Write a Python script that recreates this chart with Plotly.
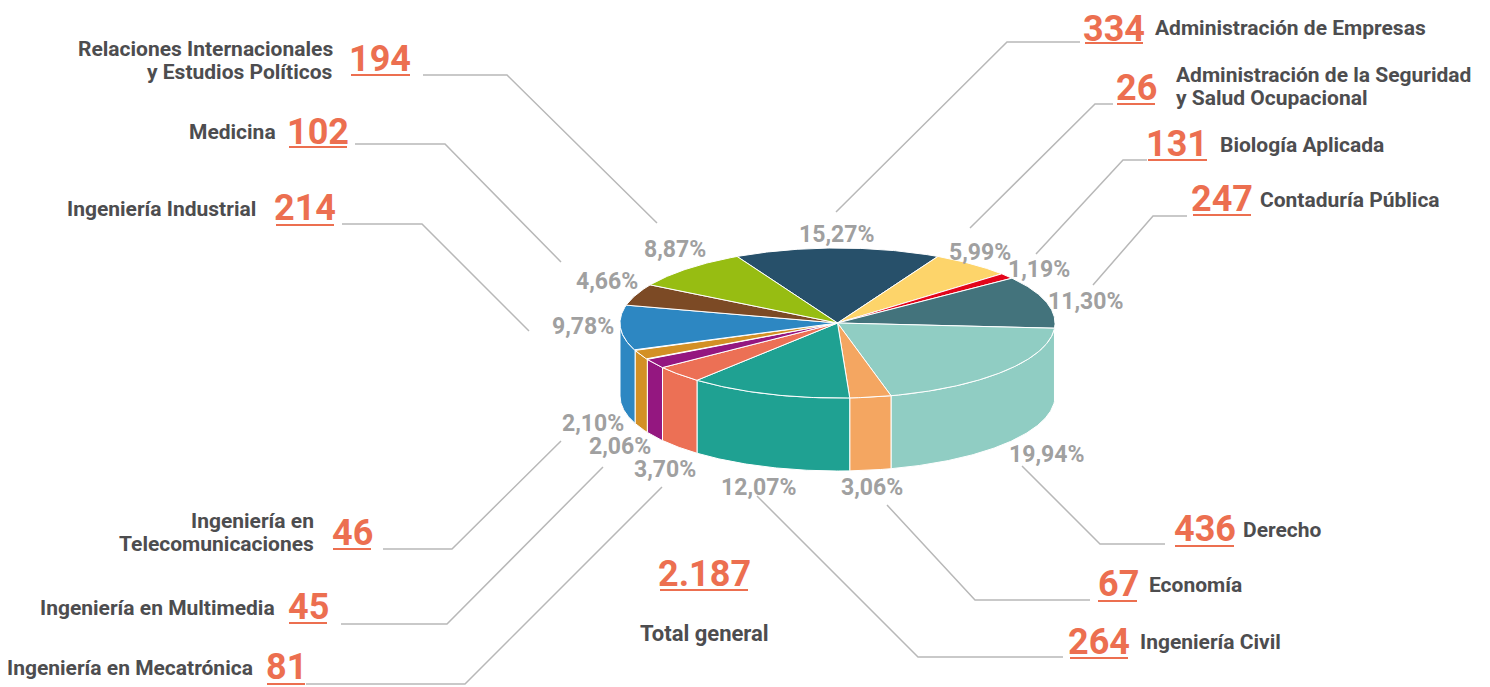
import numpy as np
import plotly.graph_objects as go

# slices in clockwise order starting at the top
categories = [
    "Administración de Empresas",
    "Biología Aplicada",
    "Administración de la Seguridad\ny Salud Ocupacional",
    "Contaduría Pública",
    "Derecho",
    "Economía",
    "Ingeniería Civil",
    "Ingeniería en Mecatrónica",
    "Ingeniería en Multimedia",
    "Ingeniería en\nTelecomunicaciones",
    "Ingeniería Industrial",
    "Medicina",
    "Relaciones Internacionales\ny Estudios Políticos",
]
values = [334, 131, 26, 247, 436, 67, 264, 81, 45, 46, 214, 102, 194]
percent_labels = ["15,27%", "5,99%", "1,19%", "11,30%", "19,94%", "3,06%", "12,07%",
                  "3,70%", "2,06%", "2,10%", "9,78%", "4,66%", "8,87%"]
colors = ["#27506a", "#fdd46a", "#e3051b", "#43737c", "#90cdc3", "#f4a661", "#1fa192",
          "#ec7055", "#941780", "#d39025", "#2d87c2", "#7c4a25", "#97bd12"]
total_label = "Total general"

ORANGE = "#ec6f50"
DARK = "#4d4d4f"
GREY = "#a0a0a0"
LINE = "#b8b8b8"
FONT = "Liberation Sans Narrow, Roboto, sans-serif"

# pie geometry in pixel units
CX, CY, RX, RY, DEPTH = 837.5, 323, 217.5, 75, 73
START = -27.5

# the page body has an 8px margin, so the axes start at 8 to keep pixel coordinates
OFF = 8

# percent label centres, same order as slices
pct_pos = [(836, 234), (980, 252), (1039, 269), (1085, 301), (1046, 454), (872, 487),
           (758, 487), (665, 469), (620, 446), (593, 423), (583, 326), (607, 281), (675, 249)]

# callouts: side, number centre, underline (x0, x1, y), text position, leader path
callouts = [
    ("right", (1114, 29), (1085, 1143, 43), (1153, 28), [(1080, 42), (1007, 42), (836, 212)]),
    ("right", (1177, 144), (1148, 1207, 160), (1218, 145), [(1147, 160), (1123, 160), (1036, 254)]),
    ("right", (1136, 88), (1117, 1155, 104), (1174, 86), [(1113, 104), (1095, 104), (970, 228)]),
    ("right", (1222, 199), (1193, 1251, 215), (1258, 200), [(1187, 216), (1153, 216), (1093, 285)]),
    ("right", (1205, 529), (1175, 1234, 546), (1241, 530), [(1022, 466), (1100, 544), (1165, 544)]),
    ("right", (1118, 584), (1098, 1137, 601), (1147, 585), [(887, 505), (975, 600), (1090, 600)]),
    ("right", (1099, 642), (1070, 1128, 658), (1138, 642), [(757, 496), (918, 657), (1063, 657)]),
    ("left", (286, 667), (267, 305, 684), (255, 668), [(306, 684), (465, 684), (662, 487)]),
    ("left", (308, 607), (289, 327, 623), (277, 608), [(341, 624), (447, 624), (603, 467)]),
    ("left", (352, 533), (333, 371, 549), (316, 532), [(383, 549), (452, 549), (561, 441)]),
    ("left", (305, 208), (276, 334, 225), (258, 209), [(342, 224), (422, 224), (529, 331)]),
    ("left", (318, 132), (289, 347, 147), (278, 132), [(355, 144), (445, 144), (561, 262)]),
    ("left", (380, 59), (351, 410, 75), (335, 60), [(423, 75), (507, 75), (657, 223)]),
]
total_pos = (704, 574)
total_ul = (660, 748, 590)
total_text_pos = (704, 633)

total = sum(values)
bounds = START + 360 * np.concatenate([[0], np.cumsum(values)]) / total


def arc(a0, a1):
    t = np.radians(np.linspace(a0, a1, int(abs(a1 - a0) * 2) + 2))
    return CX + RX * np.sin(t), CY - RY * np.cos(t)


fig = go.Figure()

# side walls (front half only)
for i, c in enumerate(colors):
    lo, hi = max(bounds[i], 90), min(bounds[i + 1], 270)
    if hi <= lo:
        continue
    x, y = arc(lo, hi)
    xs = np.concatenate([x, x[::-1], x[:1]])
    ys = np.concatenate([y, y[::-1] + DEPTH, y[:1]])
    fig.add_trace(go.Scatter(x=xs, y=ys, mode="lines", fill="toself", fillcolor=c,
                             line=dict(color="white", width=1), hoverinfo="skip",
                             showlegend=False))

# top faces
for i, c in enumerate(colors):
    x, y = arc(bounds[i], bounds[i + 1])
    xs = np.concatenate([[CX], x, [CX]])
    ys = np.concatenate([[CY], y, [CY]])
    fig.add_trace(go.Scatter(x=xs, y=ys, mode="lines", fill="toself", fillcolor=c,
                             line=dict(color="white", width=1),
                             name=categories[i].replace("\n", " "),
                             text=f"{values[i]} ({percent_labels[i]})", hoverinfo="name+text",
                             showlegend=False))

# leader lines
for side, npos, ul, tpos, path in callouts:
    fig.add_trace(go.Scatter(x=[p[0] for p in path], y=[p[1] for p in path], mode="lines",
                             line=dict(color=LINE, width=1.5), hoverinfo="skip",
                             showlegend=False))

# percent labels
for (px, py), lab in zip(pct_pos, percent_labels):
    fig.add_annotation(x=px, y=py, text=lab, showarrow=False, xanchor="center", yanchor="middle",
                       font=dict(family=FONT, size=23, color=GREY, weight=700))

# value + category labels
for (side, npos, ul, tpos, path), cat, v in zip(callouts, categories, values):
    fig.add_annotation(x=npos[0], y=npos[1], text=str(v), showarrow=False,
                       xanchor="center", yanchor="middle", height=38, borderpad=0,
                       font=dict(family=FONT, size=36, color=ORANGE, weight=700))
    fig.add_shape(type="line", x0=ul[0], x1=ul[1], y0=ul[2], y1=ul[2],
                  line=dict(color=ORANGE, width=2))
    lines = cat.split("\n")
    for k, ln in enumerate(lines):
        dy = (k - (len(lines) - 1) / 2) * 23
        fig.add_annotation(x=tpos[0], y=tpos[1] + dy, text=ln, showarrow=False,
                           xanchor="left" if side == "right" else "right", yanchor="middle",
                           font=dict(family=FONT, size=21, color=DARK, weight=700))

# total
fig.add_annotation(x=total_pos[0], y=total_pos[1], text=f"{total:,}".replace(",", "."),
                   showarrow=False, xanchor="center", yanchor="middle", height=38, borderpad=0,
                   font=dict(family=FONT, size=36, color=ORANGE, weight=700))
fig.add_shape(type="line", x0=total_ul[0], x1=total_ul[1], y0=total_ul[2], y1=total_ul[2],
              line=dict(color=ORANGE, width=2))
fig.add_annotation(x=total_text_pos[0], y=total_text_pos[1], text=total_label, showarrow=False,
                   xanchor="center", yanchor="middle",
                   font=dict(family=FONT, size=22, color=DARK, weight=700))

fig.update_layout(
    width=1490 - OFF, height=687 - OFF,
    margin=dict(l=0, r=0, t=0, b=0),
    paper_bgcolor="white", plot_bgcolor="white",
    xaxis=dict(range=[OFF, 1490], visible=False, fixedrange=True),
    yaxis=dict(range=[687, OFF], visible=False, fixedrange=True),
    showlegend=False,
)

fig.write_html("out.html")
